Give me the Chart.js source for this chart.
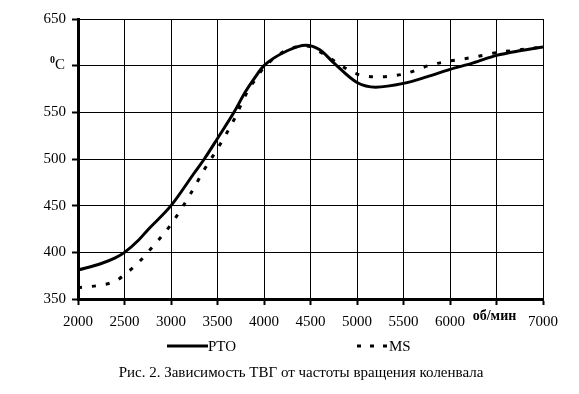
<!DOCTYPE html>
<html>
<head>
<meta charset="utf-8">
<script src="https://cdn.jsdelivr.net/npm/chart.js@4.4.1/dist/chart.umd.min.js"></script>
<style>
    html, body { margin: 0; padding: 0; background: #fff; }
    #wrap { position: relative; width: 579px; height: 394px; }
</style>
</head>
<body>
<div id="wrap"><canvas id="tempChart" width="579" height="394"></canvas></div>
<script>
// rpm values (x) and exhaust gas temperature, deg C
const rpmPto = [2000, 2250, 2400, 2500, 2650, 2750, 3000, 3250, 3358, 3500, 3677, 3800, 3900, 4000, 4250, 4450, 4600, 4750, 5000, 5200, 5500, 5750, 6000, 6250, 6500, 6750, 7000];
const tempPto = [381, 388, 394, 400, 413, 424, 450, 485, 500, 522, 550, 572, 587, 600, 616, 622, 617, 603, 582, 577, 581, 588, 596, 603, 611, 616, 620];

const rpmMs = [2000, 2250, 2400, 2500, 2650, 2750, 3000, 3200, 3366, 3500, 3677, 3820, 3920, 4000, 4250, 4450, 4650, 4800, 5000, 5200, 5500, 5800, 6000, 6250, 6500, 6750, 7000];
const tempMs = [362, 365, 369, 376, 389, 400, 430, 461, 490, 511, 542, 572, 587, 598, 617, 621, 612, 602, 591, 588, 591, 601, 605, 609, 614, 617, 620];

const seriesNames = ['PTO', 'MS'];
const yUnit = 'C';
const xUnit = 'об/мин';
const caption = 'Рис. 2. Зависимость ТВГ от частоты вращения коленвала';

const serif = "'Liberation Serif', 'Times New Roman', serif";

const toPoints = (xs, ys) => xs.map((x, i) => ({ x: x, y: ys[i] }));

// legend, caption and the two unit labels that replace ticks
const extrasPlugin = {
    id: 'extras',
    afterDraw(chart) {
        const ctx = chart.ctx;
        const xs = chart.scales.x;
        const ys = chart.scales.y;
        ctx.save();
        ctx.fillStyle = '#000';
        ctx.strokeStyle = '#000';

        // unit on y axis at 600
        const y600 = ys.getPixelForValue(600);
        ctx.textBaseline = 'alphabetic';
        ctx.textAlign = 'left';
        ctx.font = 'bold 10px ' + serif;
        ctx.fillText('0', 50, y600 - 3);
        ctx.font = '15px ' + serif;
        ctx.fillText(yUnit, 55, y600 + 3);

        // unit on x axis at 6500
        ctx.textAlign = 'center';
        ctx.font = 'bold 14px ' + serif;
        ctx.fillText(xUnit, xs.getPixelForValue(6500) - 2, 320);

        // legend
        const ly = 346;
        ctx.lineWidth = 3;
        ctx.setLineDash([]);
        ctx.beginPath(); ctx.moveTo(167, ly); ctx.lineTo(208, ly); ctx.stroke();
        ctx.setLineDash([4, 9]);
        ctx.beginPath(); ctx.moveTo(357, ly); ctx.lineTo(388, ly); ctx.stroke();
        ctx.setLineDash([]);
        ctx.textAlign = 'left';
        ctx.textBaseline = 'middle';
        ctx.font = '15px ' + serif;
        ctx.fillText(seriesNames[0], 208, ly + 1);
        ctx.fillText(seriesNames[1], 389, ly + 1);

        // caption
        ctx.textAlign = 'center';
        ctx.font = '15px ' + serif;
        ctx.fillText(caption, 301, 373);
        ctx.restore();
    }
};

const ctx = document.getElementById('tempChart').getContext('2d');
new Chart(ctx, {
    type: 'line',
    data: {
        datasets: [{
            label: seriesNames[0],
            data: toPoints(rpmPto, tempPto),
            borderColor: '#000',
            borderWidth: 3,
            pointRadius: 0,
            cubicInterpolationMode: 'monotone',
            fill: false
        }, {
            label: seriesNames[1],
            data: toPoints(rpmMs, tempMs),
            borderColor: '#000',
            borderWidth: 3,
            borderDash: [4, 10],
            pointRadius: 0,
            cubicInterpolationMode: 'monotone',
            fill: false
        }]
    },
    options: {
        responsive: false,
        animation: false,
        layout: { padding: { top: 19, right: 36, left: 0, bottom: 0 } },
        plugins: { legend: { display: false }, tooltip: { enabled: false } },
        scales: {
            x: {
                type: 'linear',
                min: 2000, max: 7000,
                afterFit: (s) => { s.height = 95; },
                ticks: {
                    stepSize: 500,
                    color: '#000',
                    padding: 8,
                    maxRotation: 0,
                    font: { family: serif, size: 15 },
                    callback: (v) => v === 6500 ? '' : v
                },
                grid: { color: '#000', lineWidth: 1, tickLength: 6, tickColor: '#000', tickWidth: 2 },
                border: { color: '#000', width: 3 }
            },
            y: {
                min: 350, max: 650,
                afterFit: (s) => { s.width = 78; },
                ticks: {
                    stepSize: 50,
                    color: '#000',
                    padding: 6,
                    font: { family: serif, size: 15 },
                    callback: (v) => v === 600 ? '' : v
                },
                grid: { color: '#000', lineWidth: 1, tickLength: 6, tickColor: '#000', tickWidth: 2 },
                border: { color: '#000', width: 3 }
            }
        }
    },
    plugins: [extrasPlugin]
});
</script>
</body>
</html>
